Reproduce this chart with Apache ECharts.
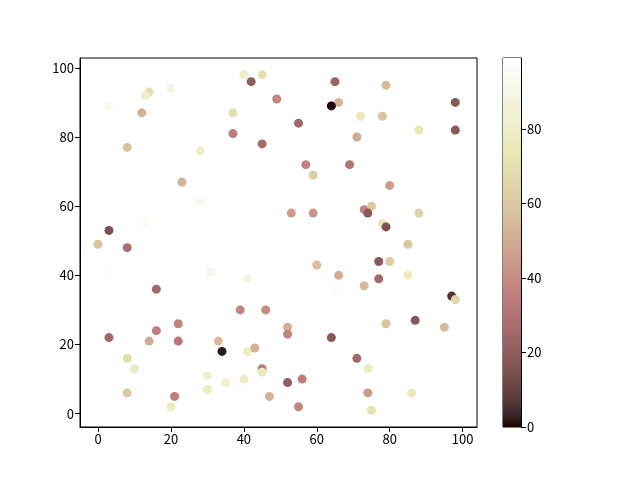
<!DOCTYPE html>
<html><head><meta charset="utf-8">
<script src="https://cdn.jsdelivr.net/npm/echarts@6/dist/echarts.min.js"></script>
<style>html,body{margin:0;padding:0;background:#fff}#c{width:640px;height:480px}</style>
</head><body><div id="c"></div>
<script>
const xs = [40,45,42,49,14,13,20,3,12,37,37,45,8,28,23,28,13,3,0,8,
            65,79,66,64,98,72,78,55,88,98,71,57,69,59,80,53,59,73,75,74,
            88,78,79,85,3,31,41,44,16,39,46,22,16,3,14,22,33,34,41,43,
            8,10,45,45,30,35,40,30,39,8,21,20,47,52,77,80,60,66,85,77,
            73,65,97,98,52,52,64,87,79,95,71,74,56,74,86,55,75];
const ys = [98,98,96,91,93,92,94,89,87,87,81,78,77,76,67,61,55,53,49,48,
            96,95,90,89,90,86,86,84,82,82,80,72,72,69,66,58,58,59,60,58,
            58,55,54,49,41,41,39,43,36,30,30,26,24,22,21,21,21,18,18,19,
            16,13,13,12,11,9,10,7,7,6,5,2,5,9,44,44,43,40,40,39,
            37,36,34,33,25,23,22,27,26,25,16,13,10,6,6,2,1];
const cs = [80,70,20,38,70,80,88,92,52,70,35,27,58,80,52,92,95,15,58,28,
            22,55,53,0,18,75,58,25,75,18,50,37,30,62,45,45,43,38,60,18,
            65,75,15,60,97,90,88,98,25,38,40,38,35,25,50,32,55,2,78,52,
            68,78,35,75,82,82,80,78,97,60,35,78,52,20,18,62,57,50,78,25,
            55,95,6,65,52,38,18,18,58,55,25,78,35,45,75,38,72];
const xTicks = [0,20,40,60,80,100];
const yTicks = [0,20,40,60,80,100];
const cTicks = [0,20,40,60,80];
const CMIN = 0, CMAX = 99;

function pink(t){
  const hr = Math.min(1, t/0.365079);
  const hg = Math.max(0, Math.min(1, (t-0.365079)/0.380953));
  const hb = Math.max(0, Math.min(1, (t-0.746032)/0.253968));
  let r = Math.sqrt((2*t+hr)/3), g = Math.sqrt((2*t+hg)/3), b = Math.sqrt((2*t+hb)/3);
  r = Math.max(r, 0.1178);
  const h = v => Math.round(Math.min(1,v)*255).toString(16).padStart(2,'0');
  return '#'+h(r)+h(g)+h(b);
}
const N = 40;
const cmapColors = [], stops = [];
for (let i=0;i<=N;i++){ const t=i/N; cmapColors.push(pink(t)); stops.push({offset:t, color:pink(t)}); }

const data = xs.map((x,i)=>[x, ys[i], cs[i]]);
const font = {fontFamily:'Noto Sans CJK SC', fontSize:13, color:'#000'};
const tick = {show:true, length:5, lineStyle:{color:'#000', width:1}};
const chart = echarts.init(document.getElementById('c'), null, {renderer:'canvas'});
chart.setOption({
  animation:false,
  backgroundColor:'#fff',
  grid:[
    {left:80, top:58, width:397, height:369, show:true, borderColor:'#000', borderWidth:1, backgroundColor:'transparent'},
    {left:503, top:58, width:18, height:369, show:true, borderColor:'#000', borderWidth:1, backgroundColor:'transparent'}
  ],
  xAxis:[
    {type:'value', gridIndex:0, min:-4.95, max:103.95, interval:20,
     axisLine:{show:true, onZero:false, lineStyle:{color:'#000'}},
     axisTick:Object.assign({customValues:xTicks}, tick),
     splitLine:{show:false},
     axisLabel:Object.assign({margin:6, customValues:xTicks}, font)},
    {type:'category', gridIndex:1, data:['c'], show:false}
  ],
  yAxis:[
    {type:'value', gridIndex:0, min:-3.85, max:102.85, interval:20,
     axisLine:{show:true, onZero:false, lineStyle:{color:'#000'}},
     axisTick:Object.assign({customValues:yTicks}, tick),
     splitLine:{show:false},
     axisLabel:Object.assign({margin:6, customValues:yTicks}, font)},
    {type:'value', gridIndex:1, position:'right', min:CMIN, max:CMAX, interval:20,
     axisLine:{show:true, lineStyle:{color:'#000'}},
     axisTick:Object.assign({customValues:cTicks}, tick),
     splitLine:{show:false},
     axisLabel:Object.assign({margin:6, customValues:cTicks}, font)}
  ],
  visualMap:{type:'continuous', show:false, min:CMIN, max:CMAX, dimension:2, seriesIndex:0,
             inRange:{color:cmapColors}},
  series:[
    {type:'scatter', xAxisIndex:0, yAxisIndex:0, data:data, symbolSize:9,
     itemStyle:{opacity:1}},
    {type:'bar', xAxisIndex:1, yAxisIndex:1, data:[CMAX], barWidth:'100%',
     itemStyle:{color:new echarts.graphic.LinearGradient(0,1,0,0,stops)}}
  ]
});
</script></body></html>
